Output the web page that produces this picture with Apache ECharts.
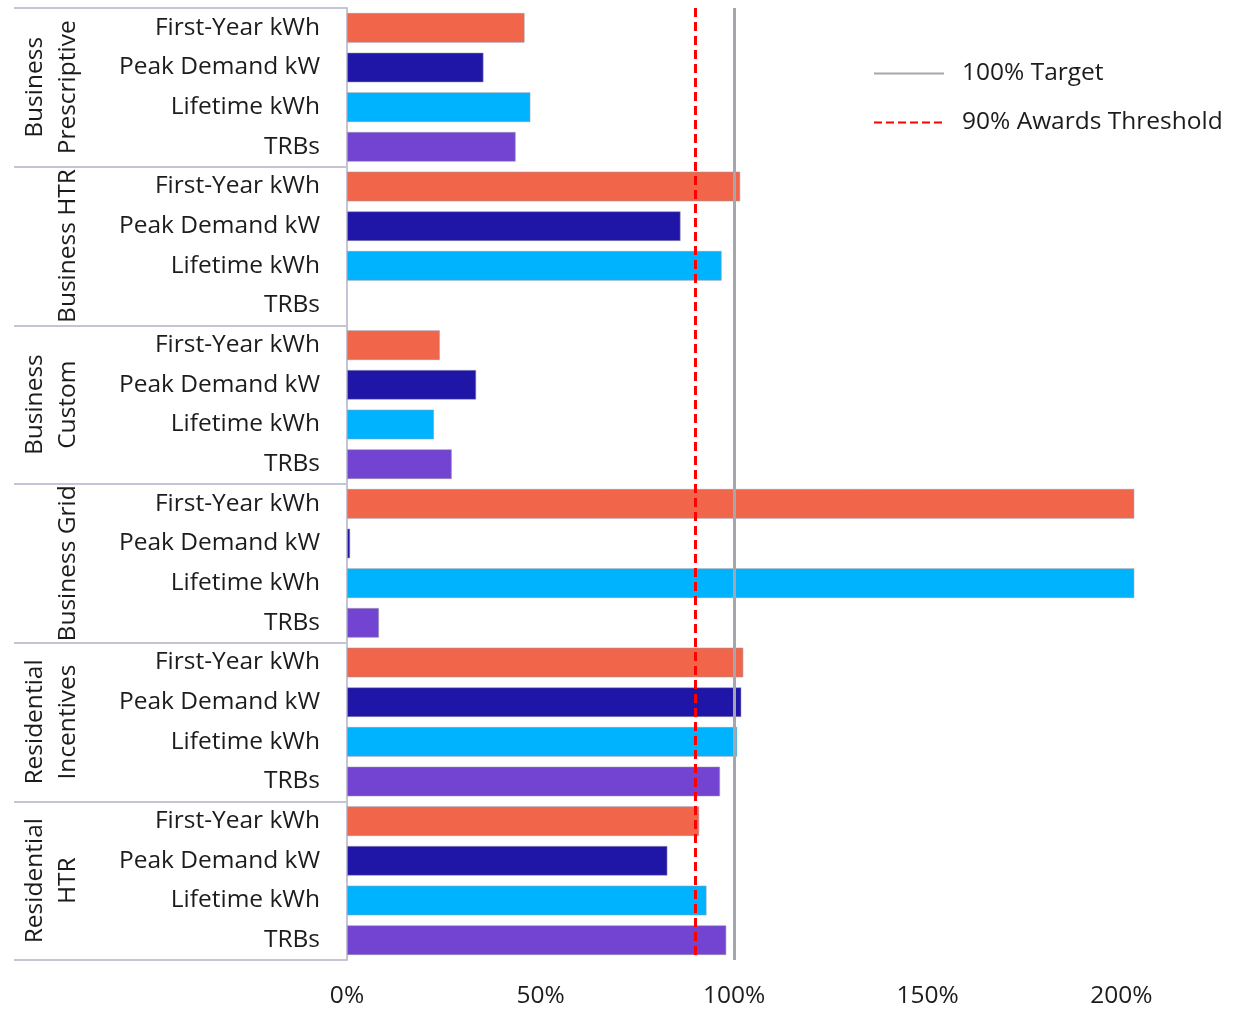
<!DOCTYPE html>
<html>
<head>
<meta charset="utf-8">
<title>Program Performance vs Target</title>
<script src="https://cdn.jsdelivr.net/npm/echarts@6/dist/echarts.min.js"></script>
<style>
  html, body { margin: 0; padding: 0; background: #fff; }
  #chart { width: 1253px; height: 1009px; }
</style>
</head>
<body>
<div id="chart"></div>
<script>
// Program groups (top to bottom) and the four metrics shown for each
const groups = [
  'Business\nPrescriptive',
  'Business HTR',
  'Business\nCustom',
  'Business Grid',
  'Residential\nIncentives',
  'Residential\nHTR'
];
const metrics = ['First-Year kWh', 'Peak Demand kW', 'Lifetime kWh', 'TRBs'];

// Percent of target achieved, one value per group
const firstYearKwh = [45.9, 101.6, 24.0, 203.4, 102.4, 91.0];
const peakDemandKw = [35.3, 86.2, 33.4, 0.85, 101.9, 82.8];
const lifetimeKwh  = [47.4, 96.8, 22.5, 203.4, 100.8, 92.9];
const trbs         = [43.6, null, 27.1, 8.3, 96.4, 98.0];

const xTicks = [0, 50, 100, 150, 200];
const targetLine = 100;
const thresholdLine = 90;

const metricColors = ['#F1664B', '#1F15A7', '#00B3FF', '#7343D1'];

// Flatten into one row per group/metric pair
const categories = [];
const values = [];
groups.forEach((g, gi) => {
  const row = [firstYearKwh[gi], peakDemandKw[gi], lifetimeKwh[gi], trbs[gi]];
  metrics.forEach((m, mi) => {
    categories.push(m);
    values.push({ value: row[mi], itemStyle: { color: metricColors[mi] } });
  });
});

const font = '"Open Sans", "Noto Sans", sans-serif';
const textColor = '#1c1c1c';
const frameColor = '#c4c4d4';
const fontSize = 24.5;

const chart = echarts.init(document.getElementById('chart'), null, { renderer: 'canvas' });
chart.setOption({
  animation: false,
  backgroundColor: '#ffffff',
  textStyle: { fontFamily: font },
  grid: { left: 347, right: 93, top: 8, bottom: 49, containLabel: false },
  legend: {
    orient: 'vertical',
    left: 868,
    top: 56,
    itemWidth: 70,
    itemHeight: 10,
    itemGap: 24,
    itemStyle: { opacity: 0 },
    textStyle: { fontFamily: font, fontSize: fontSize, color: textColor, padding: [0, 0, 0, 13] },
    data: ['100% Target', '90% Awards Threshold']
  },
  xAxis: {
    type: 'value',
    min: 0,
    max: 210,
    interval: 50,
    axisLine: { show: false },
    axisTick: { show: false },
    splitLine: { show: false },
    axisLabel: {
      showMaxLabel: false,
      margin: 24,
      fontSize: fontSize,
      color: textColor,
      fontFamily: font,
      formatter: v => (xTicks.indexOf(v) >= 0 ? v + '%' : '')
    }
  },
  yAxis: [
    {
      type: 'category',
      data: categories,
      inverse: true,
      position: 'left',
      axisLine: { show: true, lineStyle: { color: frameColor, width: 2 } },
      axisTick: { show: false },
      axisLabel: { interval: 0, fontSize: fontSize, color: textColor, fontFamily: font, margin: 27 }
    },
    {
      type: 'category',
      data: groups,
      inverse: true,
      position: 'left',
      offset: 0,
      axisLine: { show: false },
      axisTick: { show: true, interval: 0, length: 333, lineStyle: { color: frameColor, width: 2 } },
      axisLabel: {
        interval: 0,
        rotate: 90,
        margin: 262,
        align: 'center',
        verticalAlign: 'bottom',
        fontSize: fontSize,
        lineHeight: 33,
        color: textColor,
        fontFamily: font
      }
    }
  ],
  series: [
    {
      name: 'Achievement',
      type: 'bar',
      yAxisIndex: 0,
      barWidth: 30,
      itemStyle: { borderColor: 'rgba(150,150,170,0.55)', borderWidth: 1 },
      data: values
    },
    {
      name: '100% Target',
      type: 'line',
      symbol: 'none',
      data: [],
      color: '#A6A6AE',
      lineStyle: { color: '#A6A6AE', width: 3, type: 'solid' },
      markLine: {
        silent: true,
        symbol: 'none',
        label: { show: false },
        lineStyle: { color: '#A6A6AE', width: 3, type: 'solid' },
        data: [{ xAxis: targetLine }]
      }
    },
    {
      name: '90% Awards Threshold',
      type: 'line',
      symbol: 'none',
      data: [],
      color: '#FF0000',
      lineStyle: { color: '#FF0000', width: 3, type: [8, 4] },
      markLine: {
        silent: true,
        symbol: 'none',
        label: { show: false },
        lineStyle: { color: '#FF0000', width: 3, type: [9, 5] },
        data: [{ xAxis: thresholdLine }]
      }
    }
  ]
});
</script>
</body>
</html>
